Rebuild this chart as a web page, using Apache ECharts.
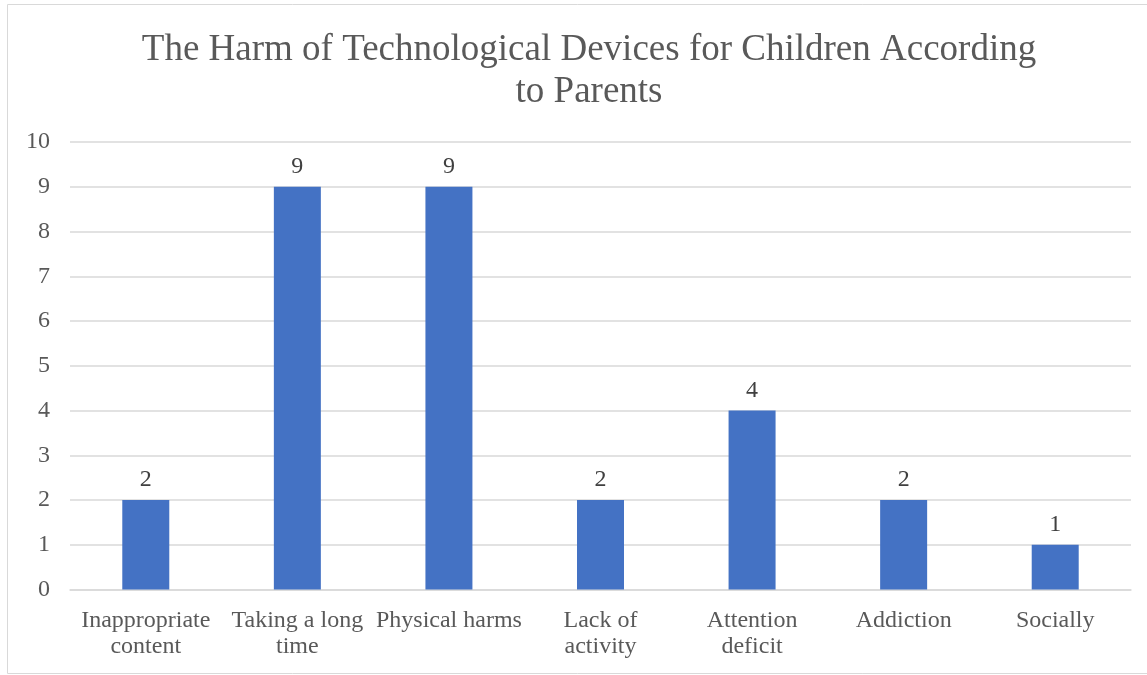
<!DOCTYPE html>
<html>
<head>
<meta charset="utf-8">
<style>
  html, body { margin: 0; padding: 0; background: #fff; }
  #chart { width: 1147px; height: 675px; }
</style>
<script src="https://cdn.jsdelivr.net/npm/echarts@6/dist/echarts.min.js"></script>
</head>
<body>
<div id="chart"></div>
<script>
const categories = [
  'Inappropriate\ncontent',
  'Taking a long\ntime',
  'Physical harms',
  'Lack of\nactivity',
  'Attention\ndeficit',
  'Addiction',
  'Socially'
];
const counts = [2, 9, 9, 2, 4, 2, 1];
const yTicks = { min: 0, max: 10, interval: 1 };

const serif = '"Liberation Serif", "Times New Roman", serif';
const chart = echarts.init(document.getElementById('chart'));

chart.setOption({
  animation: false,
  title: {
    text: 'The Harm of Technological Devices for Children According\nto Parents',
    left: 584,
    textAlign: 'center',
    top: 24,
    textStyle: {
      fontFamily: serif,
      fontSize: 37,
      fontWeight: 'normal',
      color: '#595959',
      lineHeight: 42
    }
  },
  graphic: [{
    type: 'rect',
    shape: { x: 7.5, y: 4.5, width: 1160, height: 669 },
    style: { fill: 'none', stroke: '#d9d9d9', lineWidth: 1 },
    silent: true
  }],
  grid: { left: 70, right: 16, top: 142, bottom: 85.5 },
  xAxis: {
    type: 'category',
    data: categories,
    axisLine: { lineStyle: { color: '#d9d9d9', width: 1.5 } },
    axisTick: { show: false },
    axisLabel: {
      fontFamily: serif,
      fontSize: 24,
      lineHeight: 26,
      color: '#595959',
      margin: 18,
      interval: 0
    }
  },
  yAxis: {
    type: 'value',
    min: yTicks.min,
    max: yTicks.max,
    interval: yTicks.interval,
    axisLine: { show: false },
    axisTick: { show: false },
    splitLine: { lineStyle: { color: '#d9d9d9', width: 1.5 } },
    axisLabel: {
      fontFamily: serif,
      fontSize: 24,
      color: '#595959',
      margin: 20
    }
  },
  series: [{
    type: 'bar',
    data: counts,
    barWidth: 47,
    itemStyle: { color: '#4472c4' },
    label: {
      show: true,
      position: 'top',
      distance: 8,
      fontFamily: serif,
      fontSize: 24,
      color: '#404040'
    }
  }]
});
</script>
</body>
</html>
